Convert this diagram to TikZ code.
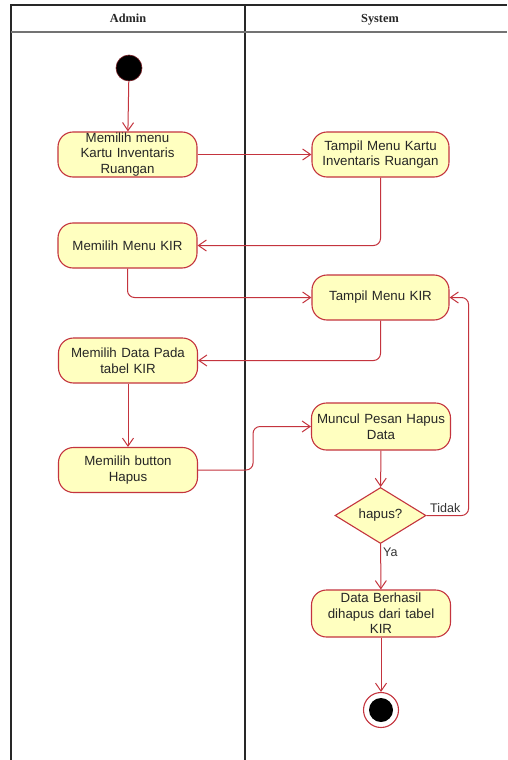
\documentclass[tikz,border=0pt]{standalone}
\usepackage{fontspec}
\setmainfont{Liberation Sans}
\newfontfamily\lanefont{Liberation Serif}
\usetikzlibrary{arrows.meta,shapes.geometric}

\definecolor{actfill}{RGB}{255,255,192}
\definecolor{actline}{RGB}{196,52,62}
\definecolor{laneline}{RGB}{40,40,40}

\tikzset{
  activity/.style={draw=actline, fill=actfill, line width=1.1pt,
    rounded corners=15pt, minimum width=139pt, minimum height=45pt,
    inner sep=0pt, align=center, text width=135pt,
    font=\fontsize{13.3}{15.6}\selectfont, text=black!85},
  decision/.style={draw=actline, fill=actfill, line width=1.1pt, diamond,
    minimum width=91pt, minimum height=45pt, inner sep=0pt,
    font=\fontsize{13.3}{16}\selectfont, text=black!85},
  flow/.style={draw=actline, line width=1pt, rounded corners=7pt,
    -{Straight Barb[length=8pt,width=11pt,line width=1pt]}},
  guard/.style={font=\fontsize{12.5}{15}\selectfont, text=black!80, inner sep=1pt},
  lanehead/.style={font=\lanefont\bfseries\fontsize{12.3}{14}\selectfont,
    text=black!85, anchor=base}
}

\begin{document}
\begin{tikzpicture}[x=1pt,y=-1pt]
  \useasboundingbox (0,0) rectangle (507,760);
  \fill[white] (0,0) rectangle (507,760);

  % swimlane frame
  \draw[laneline, line width=1.2pt] (11,760) -- (11,5) -- (507,5);
  \draw[laneline, line width=1.2pt] (245,5) -- (245,760);
  \draw[black!55, line width=1.8pt] (11,32) -- (507,32);
  \node[lanehead] (hAdmin) at (128,23) {Admin};
  \node[lanehead] (hSystem) at (380,23) {System};

  % start and end states
  \node[circle, fill=black, draw=actline!60!black, line width=0.6pt,
        minimum size=26pt, inner sep=0pt] (start) at (129,68) {};
  \node[circle, fill=white, draw=actline, line width=1.1pt,
        minimum size=35pt, inner sep=0pt] (end) at (381,710) {};
  \node[circle, fill=black, minimum size=24pt, inner sep=0pt] (endDot) at (381,710) {};

  % admin activities
  \node[activity] (a1) at (127.5,154.5) {Memilih menu\\Kartu Inventaris\\Ruangan};
  \node[activity] (a2) at (127.5,245.5) {Memilih Menu KIR};
  \node[activity] (a3) at (128,360.5) {Memilih Data Pada\\tabel KIR};
  \node[activity] (a4) at (128,470) {Memilih button\\Hapus};

  % system activities
  \node[activity, minimum width=137pt] (s1) at (380.5,154.5) {Tampil Menu Kartu\\Inventaris Ruangan};
  \node[activity, minimum width=137pt] (s2) at (380.5,297.5) {Tampil Menu KIR};
  \node[activity, minimum height=47pt] (s3) at (381,426.5) {Muncul Pesan Hapus\\Data};
  \node[decision] (dec) at (380.5,515.5) {hapus?};
  \node[activity, minimum height=47pt] (s4) at (381,613.5) {Data Berhasil\\dihapus dari tabel\\KIR};

  % control flows
  \draw[flow] (start) -- (a1);
  \draw[flow] (a1) -- (s1);
  \draw[flow] (s1.south) |- (a2.east);
  \draw[flow] (a2.south) |- (s2.west);
  \draw[flow] (s2.south) |- (a3.east);
  \draw[flow] (a3) -- (a4);
  \draw[flow] (a4.east) -- ++(55,0) |- (s3.west);
  \draw[flow] (s3) -- (dec);
  \draw[flow] (dec.east) -- ++(42,0) |- (s2.east);
  \draw[flow] (dec) -- (s4);
  \draw[flow] (s4) -- (end);

  % guards
  \node[guard, anchor=south west] (gNo) at (429,514) {Tidak};
  \node[guard, anchor=west] (gYes) at (382,552) {Ya};
\end{tikzpicture}
\end{document}
